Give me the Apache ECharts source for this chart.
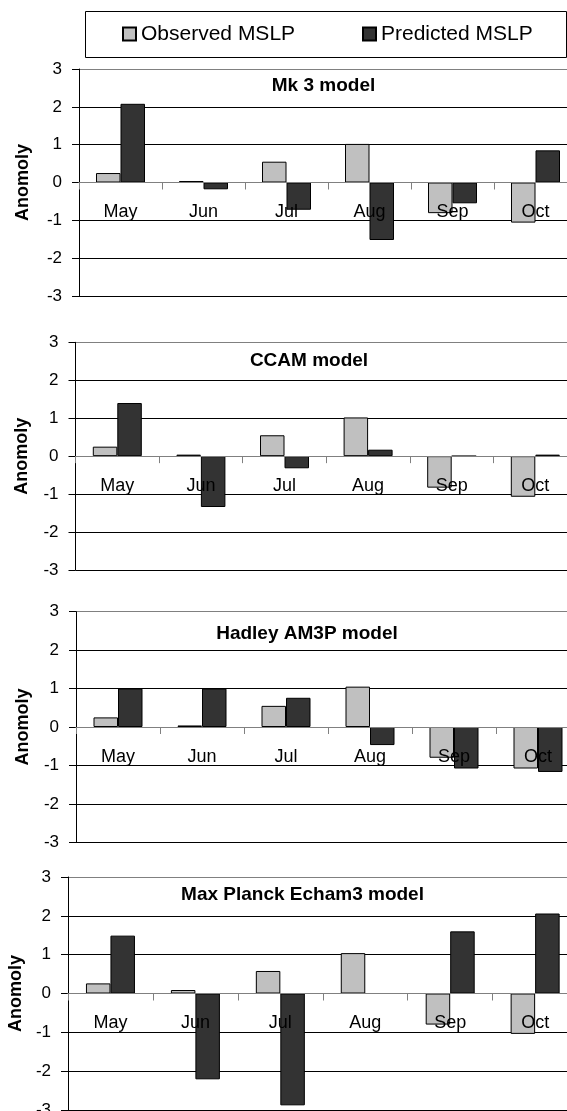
<!DOCTYPE html>
<html>
<head>
<meta charset="utf-8">
<script src="https://cdn.jsdelivr.net/npm/echarts@6/dist/echarts.min.js"></script>
<style>
  html, body { margin: 0; padding: 0; background: #fff; }
  #chart { width: 567px; height: 1111px; }
</style>
</head>
<body>
<div id="chart"></div>
<script>
// ---------- data ----------
var months = ['May', 'Jun', 'Jul', 'Aug', 'Sep', 'Oct'];
var seriesNames = ['Observed MSLP', 'Predicted MSLP'];
var panelTitles = ['Mk 3 model', 'CCAM model', 'Hadley AM3P model', 'Max Planck Echam3 model'];
var yAxisName = 'Anomoly';
var yTicks = [-3, -2, -1, 0, 1, 2, 3];

var obsMk3 = [0.25, 0.04, 0.55, 1.02, -0.81, -1.06];
var predMk3 = [2.08, -0.18, -0.72, -1.52, -0.55, 0.85];

var obsCCAM = [0.25, 0.04, 0.55, 1.02, -0.83, -1.07];
var predCCAM = [1.40, -1.34, -0.32, 0.17, 0, 0.04];

var obsHadley = [0.25, 0.04, 0.55, 1.05, -0.80, -1.08];
var predHadley = [1.00, 1.00, 0.76, -0.47, -1.08, -1.17];

var obsMaxPlanck = [0.26, 0.09, 0.58, 1.04, -0.80, -1.04];
var predMaxPlanck = [1.49, -2.21, -2.88, 0, 1.60, 2.06];

var observedSets = [obsMk3, obsCCAM, obsHadley, obsMaxPlanck];
var predictedSets = [predMk3, predCCAM, predHadley, predMaxPlanck];

// ---------- layout ----------
var FONT = "'Liberation Sans', Arial, sans-serif";
var grids = [
  { left: 79,   top: 69,    width: 498,   height: 227 },
  { left: 75.5, top: 342.3, width: 501.6, height: 227.7 },
  { left: 76,   top: 611.7, width: 504,   height: 230.6 },
  { left: 68,   top: 877,   width: 509.6, height: 233 }
];
var titlePos = [[323.5, 86], [309, 361], [307, 633.3], [302.5, 894.3]];
var nameGaps = [47, 44, 44, 42];

var option = {
  animation: false,
  textStyle: { fontFamily: FONT },
  grid: [],
  xAxis: [],
  yAxis: [],
  series: [],
  legend: [
    {
      data: [seriesNames[0]], left: 122, top: 23, icon: 'rect',
      itemWidth: 13, itemHeight: 13, itemGap: 0, padding: 0,
      textStyle: { fontFamily: FONT, fontSize: 21, color: '#000', lineHeight: 22, padding: [0, 0, 0, 0] }
    },
    {
      data: [seriesNames[1]], left: 362, top: 23, icon: 'rect',
      itemWidth: 13, itemHeight: 13, itemGap: 0, padding: 0,
      textStyle: { fontFamily: FONT, fontSize: 21, color: '#000', lineHeight: 22, padding: [0, 0, 0, 0] }
    }
  ],
  graphic: [
    {
      type: 'rect', z: -1,
      shape: { x: 85.5, y: 11.5, width: 481, height: 46 },
      style: { fill: 'none', stroke: '#000', lineWidth: 1 }
    }
  ]
};

for (var i = 0; i < 4; i++) {
  var g = grids[i];
  option.grid.push({
    left: g.left, top: g.top, width: g.width, height: g.height,
    containLabel: false, outerBoundsMode: 'none'
  });
  option.xAxis.push({
    type: 'category', gridIndex: i, data: months, z: 10,
    position: 'bottom', offset: -g.height / 2,
    boundaryGap: true,
    axisLine: { onZero: false, lineStyle: { color: '#808080', width: 1 } },
    axisTick: { show: true, length: 7, inside: false, lineStyle: { color: '#808080' } },
    axisLabel: { interval: 0, margin: 21, fontSize: 18, color: '#000', fontFamily: FONT },
    splitLine: { show: false }
  });
  option.yAxis.push({
    type: 'value', gridIndex: i, min: yTicks[0], max: yTicks[yTicks.length - 1], interval: 1,
    name: yAxisName, nameLocation: 'middle', nameGap: nameGaps[i], nameRotate: 90,
    nameTextStyle: { fontSize: 18, fontWeight: 'bold', color: '#000', fontFamily: FONT },
    axisLine: { show: true, lineStyle: { color: '#000', width: 1 } },
    axisTick: { show: true, length: 7, lineStyle: { color: '#000' } },
    axisLabel: { margin: 17, fontSize: 17, color: '#000', fontFamily: FONT },
    splitLine: {
      show: true, showMinLine: true, showMaxLine: true,
      lineStyle: { color: ['#000', '#000', '#000', '#808080', '#000', '#000', '#808080'], width: 1 }
    }
  });
  option.series.push({
    name: seriesNames[0], type: 'bar', xAxisIndex: i, yAxisIndex: i,
    data: observedSets[i], barWidth: 24.5, barGap: '0%',
    itemStyle: { color: '#C0C0C0', borderColor: '#000', borderWidth: 1 }
  });
  option.series.push({
    name: seriesNames[1], type: 'bar', xAxisIndex: i, yAxisIndex: i,
    data: predictedSets[i], barWidth: 24.5, barGap: '0%',
    itemStyle: { color: '#333333', borderColor: '#000', borderWidth: 1 }
  });
  option.graphic.push({
    type: 'text', x: titlePos[i][0], y: titlePos[i][1], z: 20,
    style: {
      text: panelTitles[i], fill: '#000', font: 'bold 19px ' + FONT,
      textAlign: 'center', textVerticalAlign: 'middle'
    }
  });
}

var chart = echarts.init(document.getElementById('chart'), null, { renderer: 'canvas' });
chart.setOption(option);
</script>
</body>
</html>
